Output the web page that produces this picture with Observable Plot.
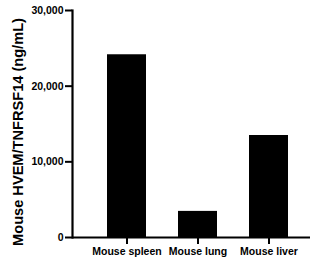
<!DOCTYPE html>
<html><head><meta charset="utf-8">
<script src="https://cdn.jsdelivr.net/npm/d3@7"></script>
<script src="https://cdn.jsdelivr.net/npm/@observablehq/plot@0.6"></script>
<style>
body{margin:0;background:#fff;}
svg{font-family:Arial,"Liberation Sans",sans-serif;}
</style></head><body><div id="chart"></div>
<script>
const categories = ["Mouse spleen", "Mouse lung", "Mouse liver"];
const values = [24150, 3450, 13480];
const yTicks = [0, 10000, 20000, 30000];
const yLabel = "Mouse HVEM/TNFRSF14 (ng/mL)";

const data = categories.map((c, i) => ({category: c, value: values[i]}));
const fmt = d3.format(",");

const chart = Plot.plot({
  width: 311, height: 266,
  marginLeft: 72, marginTop: 10, marginBottom: 29, marginRight: 1,
  style: {fontFamily: "Arial, 'Liberation Sans', sans-serif", background: "#fff", color: "black"},
  x: {domain: categories, paddingInner: 0.45, paddingOuter: 0.4, align: 0.61, label: null},
  y: {domain: [0, 30000], label: null},
  marks: [
    Plot.barY(data, {x: "category", y: "value", fill: "black"}),
    Plot.axisY({ticks: yTicks, tickFormat: fmt, tickSize: 7, tickPadding: 2, stroke: "black", strokeWidth: 2, strokeOpacity: 1, fontSize: 10.5, fontWeight: "bold", fill: "black", label: null}),
    Plot.axisX({tickSize: 7, tickPadding: 3, stroke: "black", strokeWidth: 2, strokeOpacity: 1, fontSize: 10.5, fontWeight: "bold", fill: "black", label: null}),
    Plot.frame({anchor: "left", stroke: "black", strokeWidth: 2.2}),
    Plot.ruleY([0], {stroke: "black", strokeWidth: 2.2}),
    Plot.text([yLabel], {frameAnchor: "left", dx: -54, dy: 8, rotate: -90, textAnchor: "middle", fontSize: 14.6, fontWeight: "bold", fill: "black"})
  ]
});
document.getElementById("chart").append(chart);
</script></body></html>
